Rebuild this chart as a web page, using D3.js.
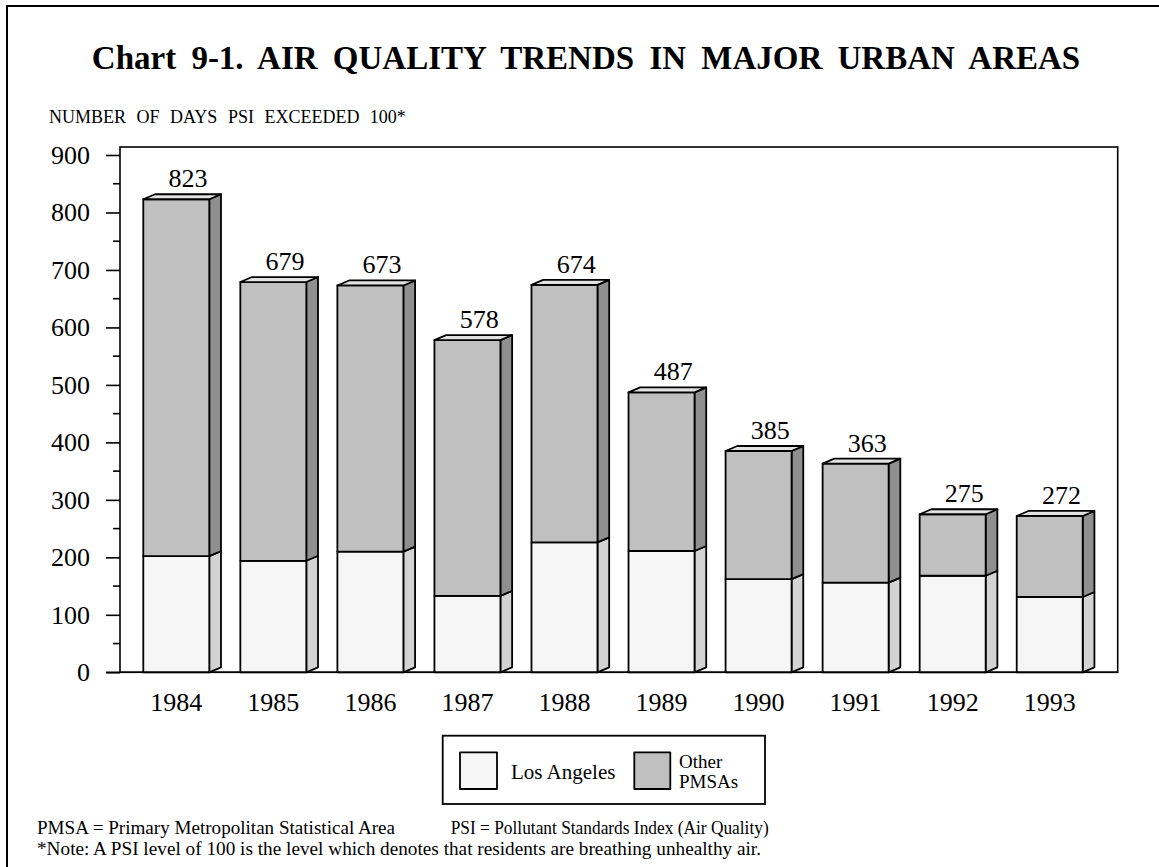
<!DOCTYPE html>
<html>
<head>
<meta charset="utf-8">
<script src="https://cdn.jsdelivr.net/npm/d3@7"></script>
<style>
  body { margin: 0; background: #fff; }
  svg { display: block; font-family: 'Liberation Serif', 'Times New Roman', serif; }
</style>
</head>
<body>
<script>
// chart values
const years = ['1984', '1985', '1986', '1987', '1988', '1989', '1990', '1991', '1992', '1993']
const losAngeles = [202, 194, 210, 133, 226, 211, 162, 156, 168, 131]
const otherPmsas = [621, 485, 463, 445, 448, 276, 223, 207, 107, 141]
const yTicks = [0, 100, 200, 300, 400, 500, 600, 700, 800, 900]
const yMinorTicks = [50, 150, 250, 350, 450, 550, 650, 750, 850]

const width = 1159, height = 867
const frame = { left: 120, top: 147, right: 1117.7, bottom: 672.3 }
const depth = { dx: 11.7, dy: 5 }

const colors = {
  laFront: '#f6f6f6', laSide: '#d3d3d3',
  otFront: '#c0c0c0', otSide: '#8f8f8f',
  top: '#e2e2e2'
}

const svg = d3.select('body')
  .append('svg')
  .attr('width', width)
  .attr('height', height)

// outer page border (left and top only visible)
svg.append('path')
  .attr('d', `M7,${height + 5} L7,6 L${width + 5},6`)
  .attr('fill', 'none')
  .attr('stroke', '#000')
  .attr('stroke-width', 2)

svg.append('text')
  .attr('x', 586)
  .attr('y', 69)
  .attr('text-anchor', 'middle')
  .style('font-size', '33px')
  .style('font-weight', 'bold')
  .style('word-spacing', '7px')
  .text('Chart 9-1. AIR QUALITY TRENDS IN MAJOR URBAN AREAS')

svg.append('text')
  .attr('x', 49)
  .attr('y', 123)
  .style('font-size', '18px')
  .style('word-spacing', '6px')
  .text('NUMBER OF DAYS PSI EXCEEDED 100*')

const x = d3.scaleBand()
  .domain(years)
  .range([120, 1106])
  .paddingInner(0.32)
  .paddingOuter(0.24)

const y = d3.scaleLinear()
  .domain([0, 900])
  .range([frame.bottom, 155])

// plot frame
svg.append('rect')
  .attr('x', frame.left)
  .attr('y', frame.top)
  .attr('width', frame.right - frame.left)
  .attr('height', frame.bottom - frame.top)
  .attr('fill', 'none')
  .attr('stroke', '#000')
  .attr('stroke-width', 1.6)

// y axis
const yAxis = d3.axisLeft(y)
  .tickValues(yTicks)
  .tickSize(14)
  .tickPadding(16)

const gy = svg.append('g')
  .attr('transform', `translate(${frame.left},0)`)
  .call(yAxis)
gy.select('.domain').remove()
gy.selectAll('line').attr('stroke-width', 1.6)
gy.selectAll('text')
  .style('font-family', "'Liberation Serif', 'Times New Roman', serif")
  .style('font-size', '26px')
  .attr('fill', '#000')

svg.append('g')
  .selectAll('line')
  .data(yMinorTicks)
  .enter()
  .append('line')
  .attr('x1', frame.left - 7)
  .attr('x2', frame.left)
  .attr('y1', d => y(d))
  .attr('y2', d => y(d))
  .attr('stroke', '#000')
  .attr('stroke-width', 1.6)

// x axis labels
const xAxis = d3.axisBottom(x).tickSize(0).tickPadding(20)
const gx = svg.append('g')
  .attr('transform', `translate(0,${frame.bottom})`)
  .call(xAxis)
gx.select('.domain').remove()
gx.selectAll('text')
  .style('font-family', "'Liberation Serif', 'Times New Roman', serif")
  .style('font-size', '26px')
  .attr('fill', '#000')

// bars
const rows = years.map((yr, i) => ({
  year: yr,
  la: losAngeles[i],
  other: otherPmsas[i],
  total: losAngeles[i] + otherPmsas[i]
}))

const bars = svg.append('g')
  .selectAll('g')
  .data(rows)
  .enter()
  .append('g')

const sidePoly = (x1, yLow, yHigh) =>
  `M${x1},${yLow} L${x1 + depth.dx},${yLow - depth.dy} L${x1 + depth.dx},${yHigh - depth.dy} L${x1},${yHigh} Z`

const style = sel => sel.attr('stroke', '#000').attr('stroke-width', 1.8).attr('stroke-linejoin', 'round')

// los angeles part
bars.append('path')
  .attr('d', d => sidePoly(x(d.year) + x.bandwidth(), y(0), y(d.la)))
  .attr('fill', colors.laSide)
  .call(style)
bars.append('rect')
  .attr('x', d => x(d.year))
  .attr('y', d => y(d.la))
  .attr('width', x.bandwidth())
  .attr('height', d => y(0) - y(d.la))
  .attr('fill', colors.laFront)
  .call(style)

// other pmsas part
bars.append('path')
  .attr('d', d => sidePoly(x(d.year) + x.bandwidth(), y(d.la), y(d.total)))
  .attr('fill', colors.otSide)
  .call(style)
bars.append('rect')
  .attr('x', d => x(d.year))
  .attr('y', d => y(d.total))
  .attr('width', x.bandwidth())
  .attr('height', d => y(d.la) - y(d.total))
  .attr('fill', colors.otFront)
  .call(style)

// top face
bars.append('path')
  .attr('d', d => {
    const x0 = x(d.year), x1 = x0 + x.bandwidth(), t = y(d.total)
    return `M${x0},${t} L${x0 + depth.dx},${t - depth.dy} L${x1 + depth.dx},${t - depth.dy} L${x1},${t} Z`
  })
  .attr('fill', colors.top)
  .call(style)

// totals
bars.append('text')
  .attr('x', d => x(d.year) + x.bandwidth() / 2 + depth.dx)
  .attr('y', d => y(d.total) - depth.dy - 7)
  .attr('text-anchor', 'middle')
  .style('font-size', '26px')
  .text(d => d.total)

// axis baseline drawn over the bars
svg.append('line')
  .attr('x1', frame.left - 14)
  .attr('x2', frame.right)
  .attr('y1', frame.bottom)
  .attr('y2', frame.bottom)
  .attr('stroke', '#000')
  .attr('stroke-width', 1.6)

// legend
const legend = svg.append('g')
legend.append('rect')
  .attr('x', 442.7).attr('y', 735.7)
  .attr('width', 322.3).attr('height', 68.3)
  .attr('fill', '#fff').attr('stroke', '#000').attr('stroke-width', 1.8)
legend.append('rect')
  .attr('x', 460).attr('y', 752.3)
  .attr('width', 37).attr('height', 36.7)
  .attr('fill', colors.laFront).call(style)
legend.append('rect')
  .attr('x', 634.3).attr('y', 752.3)
  .attr('width', 36).attr('height', 36.7)
  .attr('fill', colors.otFront).call(style)
legend.append('text')
  .attr('x', 511).attr('y', 779)
  .style('font-size', '21px')
  .text('Los Angeles')
legend.append('text')
  .attr('x', 679).attr('y', 768)
  .style('font-size', '19px')
  .text('Other')
legend.append('text')
  .attr('x', 679).attr('y', 788)
  .style('font-size', '19px')
  .text('PMSAs')

// notes
svg.append('text')
  .attr('x', 37).attr('y', 834)
  .style('font-size', '18.5px')
  .attr('textLength', 358)
  .attr('lengthAdjust', 'spacingAndGlyphs')
  .text('PMSA = Primary Metropolitan Statistical Area')
svg.append('text')
  .attr('x', 450.7).attr('y', 834)
  .style('font-size', '18.5px')
  .attr('textLength', 318)
  .attr('lengthAdjust', 'spacingAndGlyphs')
  .text('PSI = Pollutant Standards Index (Air Quality)')
svg.append('text')
  .attr('x', 37).attr('y', 855)
  .style('font-size', '18.5px')
  .attr('textLength', 724)
  .attr('lengthAdjust', 'spacingAndGlyphs')
  .text('*Note: A PSI level of 100 is the level which denotes that residents are breathing unhealthy air.')
</script>
</body>
</html>
